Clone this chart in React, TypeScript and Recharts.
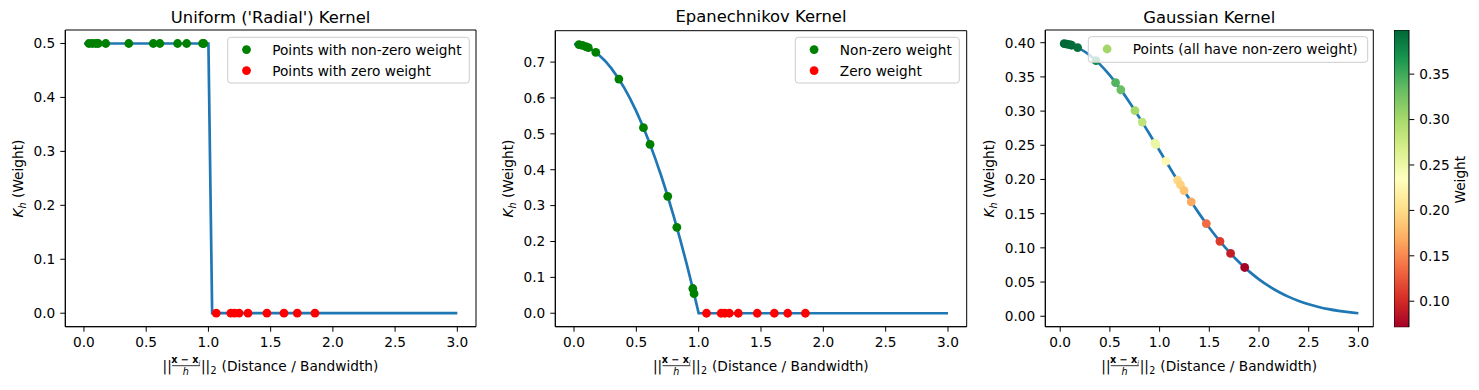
import React from 'react';
import { ComposedChart, Line, Scatter, Bar, XAxis, YAxis, ReferenceArea } from 'recharts';

const FONT = "'DejaVu Sans', sans-serif";
const TICK_SIZE = 13.7;

// sample distances ||x - x_i|| / h (same points in every panel)
const distances = [0.04, 0.067, 0.095, 0.115, 0.175, 0.36, 0.557, 0.61, 0.752, 0.825, 0.953, 0.963, 1.063, 1.18, 1.21, 1.246, 1.318, 1.47, 1.607, 1.714, 1.856];
const uniformWeights = [0.5, 0.5, 0.5, 0.5, 0.5, 0.5, 0.5, 0.5, 0.5, 0.5, 0.5, 0.5, 0, 0, 0, 0, 0, 0, 0, 0, 0];
const epanWeights = [0.7488, 0.7466, 0.7432, 0.7401, 0.727, 0.6528, 0.5173, 0.4709, 0.3259, 0.2395, 0.0689, 0.0545, 0, 0, 0, 0, 0, 0, 0, 0, 0];
const gaussWeights = [0.3986, 0.398, 0.3971, 0.3963, 0.3929, 0.3739, 0.3416, 0.3312, 0.3007, 0.2839, 0.2533, 0.2509, 0.2267, 0.1991, 0.1921, 0.1838, 0.1673, 0.1355, 0.1096, 0.0918, 0.0713];

// kernel curves
const uniformCurveX = [0, 1.0, 1.03, 3.0];
const uniformCurveY = [0.5, 0.5, 0, 0];
const epanCurveX = [0, 0.05, 0.1, 0.15, 0.2, 0.25, 0.3, 0.35, 0.4, 0.45, 0.5, 0.55, 0.6, 0.65, 0.7, 0.75, 0.8, 0.85, 0.9, 0.95, 1.0, 3.0];
const epanCurveY = [0.75, 0.7481, 0.7425, 0.7331, 0.72, 0.7031, 0.6825, 0.6581, 0.63, 0.5981, 0.5625, 0.5231, 0.48, 0.4331, 0.3825, 0.3281, 0.27, 0.2081, 0.1425, 0.0731, 0, 0];
const gaussCurveX = [0, 0.1, 0.2, 0.3, 0.4, 0.5, 0.6, 0.7, 0.8, 0.9, 1.0, 1.1, 1.2, 1.3, 1.4, 1.5, 1.6, 1.7, 1.8, 1.9, 2.0, 2.1, 2.2, 2.3, 2.4, 2.5, 2.6, 2.7, 2.8, 2.9, 3.0];
const gaussCurveY = [0.3989, 0.397, 0.391, 0.3814, 0.3683, 0.3521, 0.3332, 0.3123, 0.2897, 0.2661, 0.242, 0.2179, 0.1942, 0.1714, 0.1497, 0.1295, 0.1109, 0.094, 0.079, 0.0656, 0.054, 0.044, 0.0355, 0.0283, 0.0224, 0.0175, 0.0136, 0.0104, 0.0079, 0.006, 0.0044];

const xTicks = [0, 0.5, 1, 1.5, 2, 2.5, 3];
const uniformYTicks = [0, 0.1, 0.2, 0.3, 0.4, 0.5];
const epanYTicks = [0, 0.1, 0.2, 0.3, 0.4, 0.5, 0.6, 0.7];
const gaussYTicks = [0, 0.05, 0.1, 0.15, 0.2, 0.25, 0.3, 0.35, 0.4];
const colorbarTicks = [0.1, 0.15, 0.2, 0.25, 0.3, 0.35];
const weightMin = 0.0713;
const weightMax = 0.3986;

const RDYLGN = ['#a50026', '#d73027', '#f46d43', '#fdae61', '#fee08b', '#ffffbf', '#d9ef8b', '#a6d96a', '#66bd63', '#1a9850', '#006837'];

function hexToRgb(h: string) {
  return [1, 3, 5].map((i) => parseInt(h.slice(i, i + 2), 16));
}

function cmap(v: number) {
  let t = (v - weightMin) / (weightMax - weightMin);
  t = Math.max(0, Math.min(1, t));
  const pos = t * 10;
  const i = Math.min(9, Math.floor(pos));
  const f = pos - i;
  const a = hexToRgb(RDYLGN[i]);
  const b = hexToRgb(RDYLGN[i + 1]);
  const c = a.map((ch, k) => Math.round(ch + (b[k] - ch) * f));
  return `rgb(${c[0]},${c[1]},${c[2]})`;
}

const toRows = (xs: number[], ys: number[]) => xs.map((x, i) => ({ x, y: ys[i] }));

const uniformPoints = distances.map((x, i) => ({ x, y: uniformWeights[i], color: uniformWeights[i] > 0 ? '#008000' : '#ff0000' }));
const epanPoints = distances.map((x, i) => ({ x, y: epanWeights[i], color: epanWeights[i] > 0 ? '#008000' : '#ff0000' }));
const gaussPoints = distances.map((x, i) => ({ x, y: gaussWeights[i], color: cmap(gaussWeights[i]) }));
const colorbarData = [{ k: 'weight', range: [weightMin, weightMax] }];

const dotShape = (props: any) => <circle cx={props.cx} cy={props.cy} r={4.4} fill={props.payload.color} />;

interface PanelProps {
  left: number;
  width: number;
  top: number;
  yAxisWidth: number;
  rightMargin: number;
  yDomain: [number, number];
  yTicks: number[];
  digits: number;
  curve: { x: number; y: number }[];
  curveType: 'linear' | 'monotone';
  points: { x: number; y: number; color: string }[];
}

function KernelPanel({ left, width, top, yAxisWidth, rightMargin, yDomain, yTicks, digits, curve, curveType, points }: PanelProps) {
  const tickStyle = { fill: '#000', fontSize: TICK_SIZE, fontFamily: FONT };
  return (
    <div style={{ position: 'absolute', left, top: 0 }}>
      <ComposedChart width={width} height={390} margin={{ top, right: rightMargin, bottom: 33.3, left: 0 }}>
        <XAxis
          type="number"
          dataKey="x"
          domain={[-0.15, 3.15]}
          allowDataOverflow
          ticks={xTicks}
          interval={0}
          tickFormatter={(v: number) => v.toFixed(1)}
          stroke="#000"
          tick={tickStyle}
          tickSize={5}
          tickMargin={6}
          height={30}
        />
        <YAxis
          type="number"
          dataKey="y"
          domain={yDomain}
          allowDataOverflow
          ticks={yTicks}
          interval={0}
          tickFormatter={(v: number) => v.toFixed(digits)}
          stroke="#000"
          tick={tickStyle}
          tickSize={5}
          tickMargin={5}
          width={yAxisWidth}
        />
        <Scatter data={points} dataKey="y" shape={dotShape} isAnimationActive={false} />
        <Line
          data={curve}
          dataKey="y"
          type={curveType}
          stroke="#1f77b4"
          strokeWidth={2.7}
          dot={false}
          activeDot={false}
          isAnimationActive={false}
        />
        <ReferenceArea x1={-0.15} x2={3.15} y1={yDomain[0]} y2={yDomain[1]} fill="none" stroke="#000" strokeWidth={1} ifOverflow="visible" />
      </ComposedChart>
    </div>
  );
}

function Colorbar() {
  return (
    <div style={{ position: 'absolute', left: 1394, top: 0 }}>
      <ComposedChart
        width={75.3}
        height={390}
        data={colorbarData}
        barCategoryGap={0}
        margin={{ top: 30, right: 0, bottom: 62.7, left: 0 }}
      >
        <defs>
          <linearGradient id="weightGrad" x1="0" y1="1" x2="0" y2="0">
            {RDYLGN.map((c, i) => (
              <stop key={c} offset={`${i * 10}%`} stopColor={c} />
            ))}
          </linearGradient>
        </defs>
        <XAxis type="category" dataKey="k" hide />
        <YAxis
          type="number"
          orientation="right"
          domain={[weightMin, weightMax]}
          allowDataOverflow
          ticks={colorbarTicks}
          interval={0}
          tickFormatter={(v: number) => v.toFixed(2)}
          stroke="#000"
          axisLine={false}
          tick={{ fill: '#000', fontSize: TICK_SIZE, fontFamily: FONT }}
          tickSize={5}
          tickMargin={5}
          width={60}
        />
        <Bar dataKey="range" fill="url(#weightGrad)" stroke="#000" strokeWidth={1} isAnimationActive={false} />
      </ComposedChart>
    </div>
  );
}

function XLabel({ cx }: { cx: number }) {
  const x0 = cx - 108;
  return (
    <g fontFamily={FONT} fill="#000">
      <text x={x0} y={370.5} fontSize={TICK_SIZE}>||</text>
      <text x={x0 + 23.2} y={362.5} fontSize={9.6} textAnchor="middle">
        <tspan fontWeight="bold">x − x</tspan>
        <tspan fontStyle="italic" fontSize={6.5} dy={2}>i</tspan>
      </text>
      <line x1={x0 + 9.5} x2={x0 + 37.5} y1={365.7} y2={365.7} stroke="#000" strokeWidth={0.8} />
      <text x={x0 + 23.2} y={375} fontSize={9.6} fontStyle="italic" textAnchor="middle">h</text>
      <text x={x0 + 38.4} y={370.5} fontSize={TICK_SIZE}>||</text>
      <text x={x0 + 48} y={373.5} fontSize={9.6}>2</text>
      <text x={x0 + 59} y={370.5} fontSize={TICK_SIZE}>(Distance / Bandwidth)</text>
    </g>
  );
}

function YLabel({ x }: { x: number }) {
  const y = 178.5;
  return (
    <text x={x} y={y} transform={`rotate(-90, ${x}, ${y})`} textAnchor="middle" fontFamily={FONT} fontSize={TICK_SIZE} fill="#000">
      <tspan fontStyle="italic">K</tspan>
      <tspan fontStyle="italic" fontSize={9.6} dy={3}>h</tspan>
      <tspan dy={-3}> (Weight)</tspan>
    </text>
  );
}

function LegendBox({ x, y, w, entries }: { x: number; y: number; w: number; entries: { label: string; color: string }[] }) {
  const h = entries.length === 1 ? 25.6 : 45.7;
  return (
    <g fontFamily={FONT}>
      <rect x={x} y={y} width={w} height={h} rx={3} fill="#fff" fillOpacity={0.8} stroke="#cccccc" strokeWidth={1} />
      {entries.map((e, i) => (
        <g key={e.label}>
          <circle cx={x + 18.8} cy={y + 12.3 + i * 21} r={4.4} fill={e.color} />
          <text x={x + 44.5} y={y + 12.3 + i * 21} dy="0.36em" fontSize={TICK_SIZE} fill="#000">{e.label}</text>
        </g>
      ))}
    </g>
  );
}

export default function App() {
  const titleStyle = { fontFamily: FONT, fontSize: 16.4, fill: '#000' };
  return (
    <div style={{ position: 'absolute', left: 0, top: 0, width: 1479, height: 390, background: '#fff', overflow: 'hidden' }}>
      <KernelPanel
        left={0}
        width={480}
        top={30}
        yAxisWidth={65.3}
        rightMargin={4}
        yDomain={[-0.025, 0.525]}
        yTicks={uniformYTicks}
        digits={1}
        curve={toRows(uniformCurveX, uniformCurveY)}
        curveType="linear"
        points={uniformPoints}
      />
      <KernelPanel
        left={480}
        width={490}
        top={30.7}
        yAxisWidth={75.3}
        rightMargin={3.3}
        yDomain={[-0.0375, 0.7875]}
        yTicks={epanYTicks}
        digits={1}
        curve={toRows(epanCurveX, epanCurveY)}
        curveType="linear"
        points={epanPoints}
      />
      <KernelPanel
        left={970}
        width={410}
        top={30}
        yAxisWidth={75.3}
        rightMargin={6.7}
        yDomain={[-0.0153, 0.4186]}
        yTicks={gaussYTicks}
        digits={2}
        curve={toRows(gaussCurveX, gaussCurveY)}
        curveType="monotone"
        points={gaussPoints}
      />
      <Colorbar />
      <svg width={1479} height={390} style={{ position: 'absolute', left: 0, top: 0, pointerEvents: 'none' }}>
        <text x={270.6} y={22.5} textAnchor="middle" {...titleStyle}>Uniform ('Radial') Kernel</text>
        <text x={761} y={22} textAnchor="middle" {...titleStyle}>Epanechnikov Kernel</text>
        <text x={1209.3} y={22.5} textAnchor="middle" {...titleStyle}>Gaussian Kernel</text>
        <XLabel cx={270.6} />
        <XLabel cx={761} />
        <XLabel cx={1209.3} />
        <YLabel x={22.7} />
        <YLabel x={512.7} />
        <YLabel x={994} />
        <text x={1465} y={179.7} transform="rotate(-90, 1465, 179.7)" textAnchor="middle" fontFamily={FONT} fontSize={TICK_SIZE} fill="#000">Weight</text>
        <LegendBox
          x={227.7}
          y={37.3}
          w={241.6}
          entries={[
            { label: 'Points with non-zero weight', color: '#008000' },
            { label: 'Points with zero weight', color: '#ff0000' },
          ]}
        />
        <LegendBox
          x={795.3}
          y={37.3}
          w={164}
          entries={[
            { label: 'Non-zero weight', color: '#008000' },
            { label: 'Zero weight', color: '#ff0000' },
          ]}
        />
        <LegendBox x={1088.3} y={36.7} w={279.4} entries={[{ label: 'Points (all have non-zero weight)', color: '#a3d869' }]} />
      </svg>
    </div>
  );
}
